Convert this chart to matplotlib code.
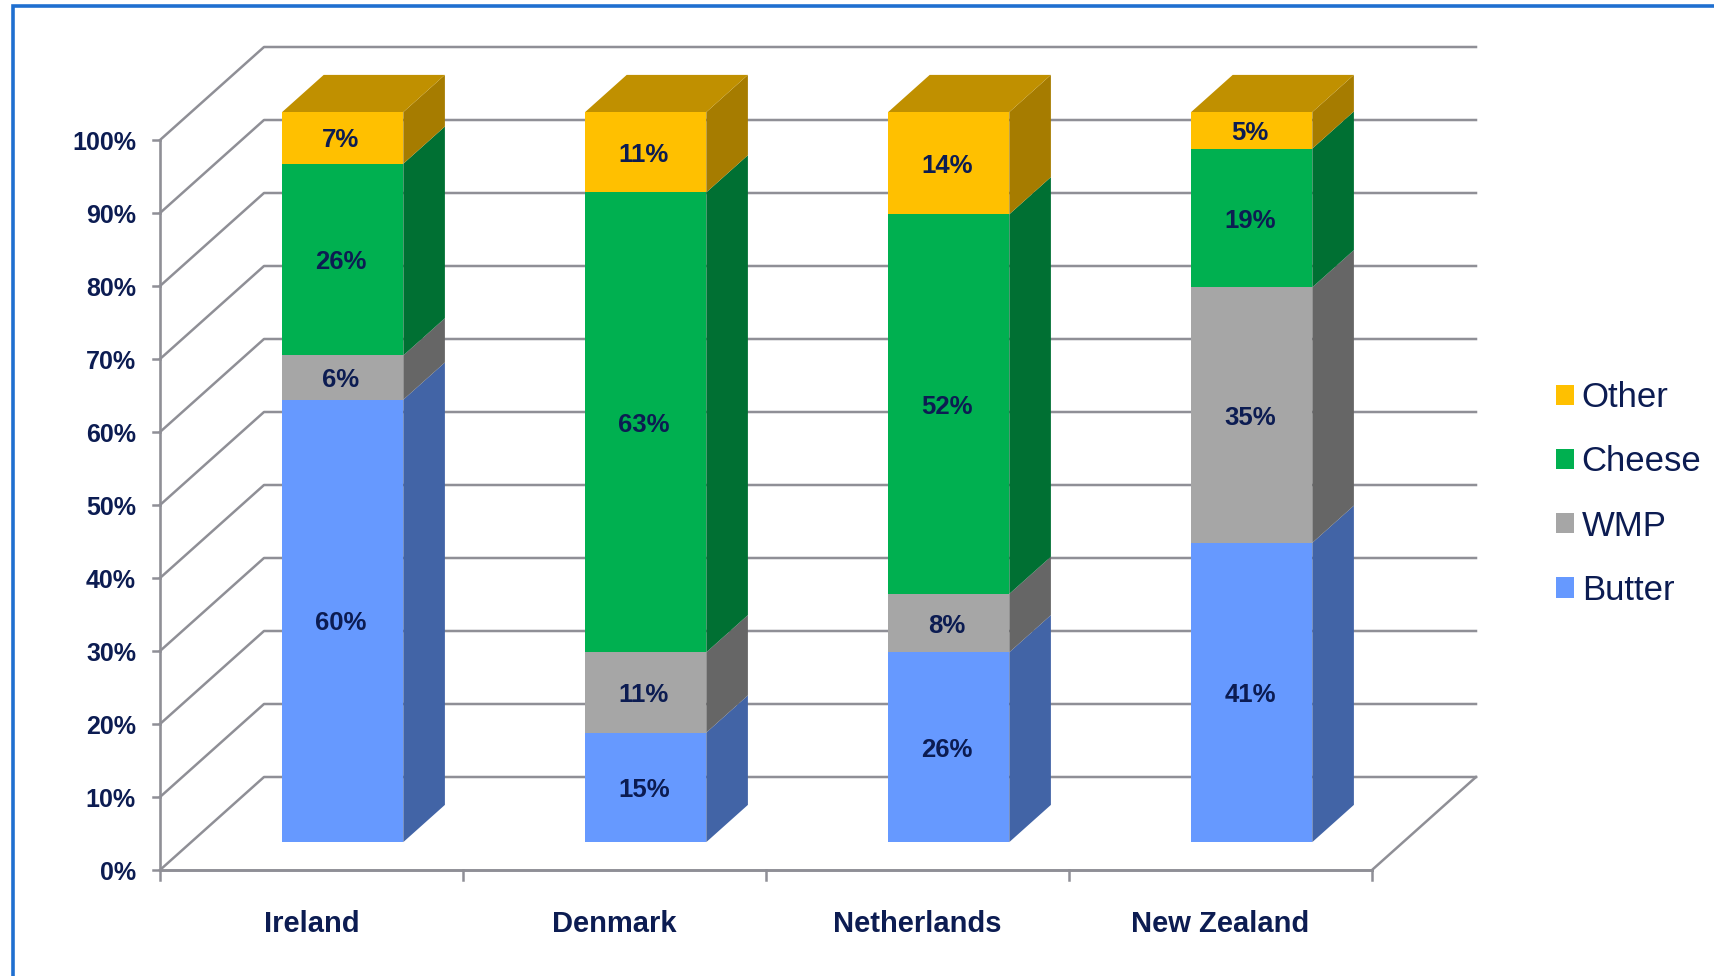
import matplotlib
matplotlib.use("Agg")
import matplotlib.pyplot as plt
from matplotlib.patches import Polygon, Patch
from matplotlib.lines import Line2D
import numpy as np

countries = ["Ireland", "Denmark", "Netherlands", "New Zealand"]
butter = [60, 15, 26, 41]
wmp = [6, 11, 8, 35]
cheese = [26, 63, 52, 19]
other = [7, 11, 14, 5]
y_ticks = [0, 10, 20, 30, 40, 50, 60, 70, 80, 90, 100]

series = [("Butter", butter, "#6699FF", "#4264A6"),
          ("WMP", wmp, "#A6A6A6", "#666666"),
          ("Cheese", cheese, "#00B050", "#007033"),
          ("Other", other, "#FFC000", "#A67C00")]
top_color = "#C09000"
text_color = "#0C1C52"
grid_color = "#8F8F96"
frame_color = "#1F6FD0"

W, H = 1715, 976
# origem do grafico e escala em pixels
x0_px, y0_px = 160, 870
cat_px, pct_px = 303, 7.3
# profundidade da parede de fundo (em unidades dos eixos)
wall_dx, wall_dy = 104 / cat_px, 93 / pct_px
bar_w = 0.4
bar_start, bar_depth = 0.3, 0.4

plt.rcParams["font.family"] = ["Liberation Sans", "DejaVu Sans"]
fig = plt.figure(figsize=(W / 100, H / 100), dpi=100)
ax = fig.add_axes([0, 0, 1, 1])
ax.set_xlim(-x0_px / cat_px, (W - x0_px) / cat_px)
ax.set_ylim(-(H - y0_px) / pct_px, y0_px / pct_px)
ax.axis("off")


def proj(x, y, d):
    # projecao obliqua: d=0 frente, d=1 fundo
    return (x + d * wall_dx, y + d * wall_dy)


# moldura azul
fig.add_artist(Line2D([13 / W, 13 / W, 1], [0, 1 - 5.5 / H, 1 - 5.5 / H],
                      color=frame_color, lw=2.6, solid_joinstyle="miter"))

# grade
n = len(countries)
for v in y_ticks:
    (bx, by) = proj(0, v, 1)
    (ex, ey) = proj(n, v, 1)
    ax.plot([0, bx, ex], [v, by, ey], color=grid_color, lw=1.8, zorder=1)
    ax.plot([-7 / cat_px, 0], [v, v], color=grid_color, lw=1.8, zorder=1)
    ax.text(-24 / cat_px, v - 0.4, f"{v}%", ha="right", va="center", fontsize=18,
            fontweight="bold", color=text_color, zorder=5)
ax.plot([0, 0], [0, 100], color=grid_color, lw=1.9, zorder=1)
ax.plot([0, n], [0, 0], color=grid_color, lw=2.1, zorder=1)
fx, fy = proj(n, 0, 1)
ax.plot([n, fx], [0, fy], color=grid_color, lw=1.8, zorder=1)
for i in range(n + 1):
    ax.plot([i, i], [0, -10 / pct_px], color=grid_color, lw=1.8, zorder=1)

# barras
for i, name in enumerate(countries):
    total = sum(s[1][i] for s in series)
    left = i + 0.5 - bar_w / 2
    right = left + bar_w
    xf, yf = proj(0, 0, bar_start)
    xb, yb = proj(0, 0, bar_start + bar_depth)
    bottom = 0
    for label, values, col, side in series:
        h = values[i] / total * 100
        ax.bar(left + xf, h, width=bar_w, bottom=bottom + yf, align="edge",
               color=col, linewidth=0, zorder=3)
        pts = [(right + xf, bottom + yf), (right + xb, bottom + yb),
               (right + xb, bottom + h + yb), (right + xf, bottom + h + yf)]
        ax.add_patch(Polygon(pts, closed=True, facecolor=side, edgecolor="none", zorder=2.5))
        ax.text(left + xf + bar_w / 2 - 0.006, bottom + yf + h / 2 - 0.35, f"{values[i]}%",
                ha="center", va="center", fontsize=18.5, fontweight="bold",
                color=text_color, zorder=5)
        bottom += h
    pts = [(left + xf, bottom + yf), (right + xf, bottom + yf),
           (right + xb, bottom + yb), (left + xb, bottom + yb)]
    ax.add_patch(Polygon(pts, closed=True, facecolor=top_color, edgecolor="none", zorder=2.5))
    ax.text(i + 0.5, -54 / pct_px, name, ha="center", va="center", fontsize=21,
            fontweight="bold", color=text_color)

# legenda
handles = [Patch(facecolor=s[2], edgecolor="none", label=s[0]) for s in reversed(series)]
leg = ax.legend(handles=handles, loc="center left", bbox_to_anchor=(1556 / W, 1 - 494 / H),
                bbox_transform=fig.transFigure, frameon=False, fontsize=25,
                handlelength=0.52, handleheight=0.52, handletextpad=0.22,
                labelspacing=0.9, borderpad=0, borderaxespad=0)
for t in leg.get_texts():
    t.set_color(text_color)

fig.savefig("out.png", dpi=100, facecolor="white")
